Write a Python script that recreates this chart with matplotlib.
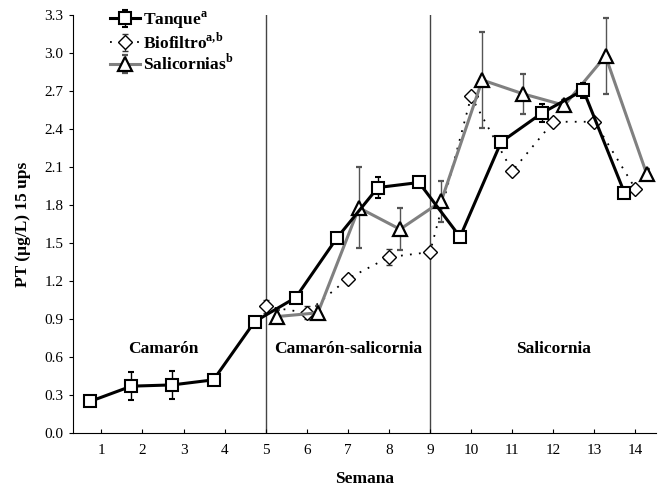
import matplotlib
matplotlib.use("Agg")
import matplotlib.pyplot as plt
import numpy as np

# Weekly PT values (ug/L) at 15 ups
weeks = np.arange(1, 15)
tanque = [0.25, 0.37, 0.38, 0.42, 0.88, 1.07, 1.54, 1.94, 1.98, 1.55, 2.30, 2.53, 2.71, 1.90]
tanque_err = [0, 0.11, 0.11, 0, 0, 0, 0, 0.08, 0, 0.03, 0, 0.07, 0.06, 0]

weeks_b = np.arange(5, 15)
biofiltro = [1.00, 0.95, 1.22, 1.39, 1.43, 2.66, 2.07, 2.46, 2.46, 1.93]
biofiltro_err = [0.05, 0.05, 0, 0.065, 0, 0, 0, 0, 0, 0]

salicornias = [0.92, 0.95, 1.78, 1.61, 1.83, 2.79, 2.68, 2.59, 2.98, 2.05]
salicornias_err = [0.05, 0.05, 0.32, 0.165, 0.16, 0.38, 0.16, 0.04, 0.30, 0.04]

phases = ["Camarón", "Camarón-salicornia", "Salicornia"]
phase_x = [2.5, 7.0, 12.0]
phase_breaks = [5, 9]
yticks = np.arange(0, 3.31, 0.3)

plt.rcParams["font.family"] = ["Liberation Serif", "DejaVu Serif"]
plt.rcParams["mathtext.fontset"] = "custom"
plt.rcParams["mathtext.rm"] = "Liberation Serif"
plt.rcParams["mathtext.bf"] = "Liberation Serif:bold"

fig = plt.figure(figsize=(6.6, 4.95), dpi=100)
ax = fig.add_axes([0.110, 0.1253, 0.884, 0.8434])

off = 0.27

for xb in phase_breaks:
    ax.axvline(xb, color="#444444", lw=1.0, zorder=1)

bio = ax.errorbar(weeks_b, biofiltro, yerr=biofiltro_err, color="black",
                  ls=(0, (1, 4)), lw=1.3, marker="D", ms=7.5, mfc="white",
                  mec="black", mew=1.0, ecolor="#333333", elinewidth=0.9,
                  capsize=2.5, capthick=0.9, zorder=3)
sal = ax.errorbar(weeks_b + off, salicornias, yerr=salicornias_err, color="#808080",
                  lw=2.2, marker="^", ms=10, mfc="white", mec="black", mew=1.6,
                  ecolor="#555555", elinewidth=1.0, capsize=2.5, capthick=1.0,
                  zorder=4)
tan = ax.errorbar(weeks - off, tanque, yerr=tanque_err, color="black", lw=2.2,
                  marker="s", ms=9, mfc="white", mec="black", mew=1.5,
                  ecolor="black", elinewidth=1.0, capsize=2.5, capthick=1.0,
                  zorder=5)

for name, xp in zip(phases, phase_x):
    ax.text(xp, 0.66, name, ha="center", va="center", fontsize=12.5,
            fontweight="bold")

ax.set_xlim(0.3, 14.5)
ax.set_ylim(0, 3.3)
ax.set_xticks(weeks)
ax.set_yticks(yticks)
ax.set_yticklabels(["%.1f" % v for v in yticks])
ax.tick_params(axis="x", direction="in", length=3, labelsize=11, pad=8)
ax.tick_params(axis="y", direction="out", length=3, labelsize=11)
for side in ["top", "right"]:
    ax.spines[side].set_visible(False)

ax.set_xlabel("Semana", fontsize=12.5, fontweight="bold", labelpad=10)
ax.set_ylabel("PT (µg/L) 15 ups", fontsize=12.5, fontweight="bold", labelpad=10)

leg = ax.legend([tan, bio, sal],
                [r"Tanque$^{\mathbf{a}}$", r"Biofiltro$^{\mathbf{a,\!b}}$",
                 r"Salicornias$^{\mathbf{b}}$"],
                loc="upper left", bbox_to_anchor=(0.05, 1.035), frameon=False,
                borderpad=0, handlelength=1.7, handletextpad=0.2,
                labelspacing=0.05, prop={"weight": "bold", "size": 12.5})

fig.savefig("out.png", dpi=100)
